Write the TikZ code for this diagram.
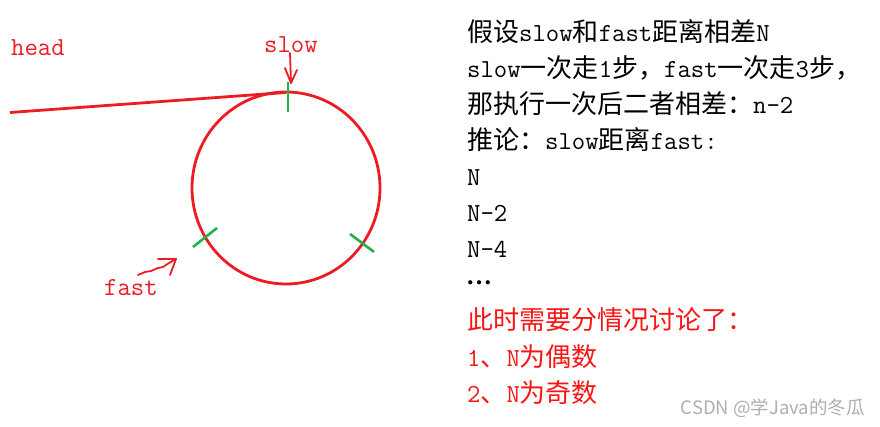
\documentclass[tikz,border=0pt]{standalone}
\usepackage{fontspec}
\newfontfamily\cjk{Noto Sans CJK SC}
\newfontfamily\dotf{Liberation Serif}
\newcommand\lt[1]{{\ttfamily #1}}
\definecolor{paintred}{RGB}{237,28,36}
\definecolor{paintgreen}{RGB}{34,177,76}
\definecolor{txtred}{RGB}{250,20,20}
\definecolor{wmgray}{RGB}{175,175,175}
\tikzset{
  redline/.style={draw=paintred, line width=2.8pt},
  thinred/.style={draw=paintred, line width=1.8pt, line cap=round, line join=round},
  greentick/.style={draw=paintgreen, line width=2.6pt},
  lbl/.style={inner sep=0pt, anchor=base west, font=\fontsize{26}{26}\selectfont\cjk},
  leftlbl/.style={lbl, text=paintred},
}
\begin{document}
\begin{tikzpicture}[x=1pt,y=-1pt]
\useasboundingbox (0,0) rectangle (880,427);
\fill[white] (0,0) rectangle (880,427);
% loop
\coordinate (ctr) at (286,188);
\draw[redline] (ctr) ellipse [x radius=94, y radius=96];
% head line
\coordinate (hs) at (10,112.5);
\coordinate (he) at (286,92.5);
\draw[redline] (hs) -- (he);
% green ticks
\coordinate (t1a) at (288,82); \coordinate (t1b) at (288,112);
\coordinate (t2a) at (193,247); \coordinate (t2b) at (217,228);
\coordinate (t3a) at (350,234); \coordinate (t3b) at (374,252);
\draw[greentick] (t1a) -- (t1b);
\draw[greentick] (t2a) -- (t2b);
\draw[greentick] (t3a) -- (t3b);
% left labels
\node[leftlbl] (head) at (11,56) {\lt{head}};
\node[leftlbl] (slow) at (264,53) {\lt{slow}};
\node[leftlbl] (fast) at (104,296) {\lt{fast}};
% slow arrow
\coordinate (sa0) at (290,53);
\coordinate (sat) at (291,83);
\coordinate (sal) at (285,68);
\coordinate (sar) at (297,70);
\draw[thinred] (sa0) -- (sat);
\draw[thinred] (sal) -- (sat) -- (sar);
% fast arrow
\coordinate (fa0) at (138,275);
\coordinate (fat) at (176,259);
\coordinate (fal) at (158,259);
\coordinate (fad) at (170,275);
\draw[thinred] (fa0) -- (145,272) -- (151,271) -- (158,268) -- (163,267) -- (169,263) -- (fat);
\draw[thinred] (fal) -- (fat) -- (fad);
% right text
\node[lbl] (r1) at (467,42) {假设\lt{slow}和\lt{fast}距离相差\lt{N}};
\node[lbl] (r2) at (467,78) {\lt{slow}一次走\lt{1}步，\lt{fast}一次走\lt{3}步，};
\node[lbl] (r3) at (467,114) {那执行一次后二者相差：\lt{n-2}};
\node[lbl] (r4) at (467,150) {推论：\lt{slow}距离\lt{fast:}};
\node[lbl] (r5) at (467,186) {\lt{N}};
\node[lbl] (r6) at (467,222) {\lt{N-2}};
\node[lbl] (r7) at (467,258) {\lt{N-4}};
\node[lbl] (r8) at (466,285) {{\dotf\bfseries …}};
\node[lbl, text=txtred] (r9) at (467,330) {此时需要分情况讨论了：};
\node[lbl, text=txtred] (r10) at (467,366) {\lt{1}、\lt{N}为偶数};
\node[lbl, text=txtred] (r11) at (467,402) {\lt{2}、\lt{N}为奇数};
% watermark
\node[inner sep=0pt, anchor=base east, text=wmgray, font=\fontsize{18.5}{18.5}\selectfont\cjk] (wm) at (865,414) {CSDN @学Java的冬瓜};
\end{tikzpicture}
\end{document}
